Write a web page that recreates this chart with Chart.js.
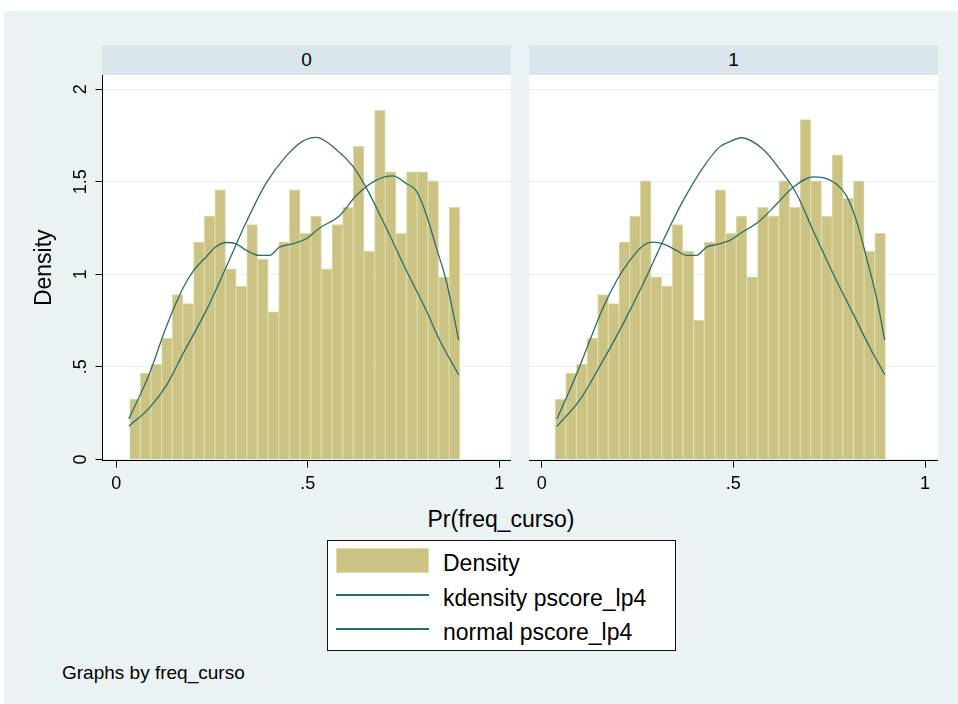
<!DOCTYPE html>
<html>
<head>
<meta charset="utf-8">
<script src="https://cdn.jsdelivr.net/npm/chart.js@4.4.0/dist/chart.umd.min.js"></script>
<style>
  body { margin: 0; width: 958px; height: 704px; background: #fff; position: relative; overflow: hidden;
         font-family: 'Liberation Sans', Arial, sans-serif; color: #000; }
  .abs { position: absolute; }
  #bg { left: 4px; top: 11px; width: 954px; height: 693px; background: #eaf2f3; }
  .strip { top: 45px; height: 30px; background: #d9e6ec; text-align: center; line-height: 30px; font-size: 19px; }
  .txt { white-space: nowrap; }
  .leg { left: 443px; font-size: 23px; line-height: 26px; }
  .legline { left: 336px; width: 93px; height: 2px; background: #2b6e69; }
</style>
</head>
<body>
<div id="bg" class="abs"></div>
<div class="abs strip" style="left:102px; width:409px;">0</div>
<div class="abs strip" style="left:529px; width:409px;">1</div>

<canvas id="c0" class="abs" width="507" height="431" style="left:4px; top:70px;"></canvas>
<canvas id="c1" class="abs" width="409" height="431" style="left:529px; top:70px;"></canvas>

<div class="abs txt" style="left:401px; width:200px; top:506px; text-align:center; font-size:23px; line-height:26px;">Pr(freq_curso)</div>

<div class="abs" style="left:327px; top:540px; width:349px; height:111px; box-sizing:border-box; border:1px solid #111; background:#fff;"></div>
<div class="abs" style="left:336px; top:548px; width:93px; height:25px; box-sizing:border-box; background:#cbc383; border:1px solid #e0daa6;"></div>
<div class="abs legline" style="top:594px;"></div>
<div class="abs legline" style="top:628px;"></div>
<div class="abs txt leg" style="top:550px;">Density</div>
<div class="abs txt leg" style="top:585px;">kdensity pscore_lp4</div>
<div class="abs txt leg" style="top:619px;">normal pscore_lp4</div>

<div class="abs txt" style="left:62px; top:662px; font-size:19px; line-height:22px;">Graphs by freq_curso</div>

<script>
// histogram bins (centres), same for both panels
const binCenters = [0.0489, 0.0767, 0.1045, 0.1323, 0.1601, 0.1879, 0.2157, 0.2435, 0.2713, 0.2991,
  0.3269, 0.3547, 0.3825, 0.4103, 0.4381, 0.4659, 0.4937, 0.5215, 0.5493, 0.5771,
  0.6049, 0.6327, 0.6605, 0.6883, 0.7161, 0.7439, 0.7717, 0.7995, 0.8273, 0.8551, 0.8829];

const density0 = [0.326, 0.466, 0.514, 0.656, 0.891, 0.842, 1.174, 1.315, 1.457, 1.030,
  0.937, 1.269, 1.081, 0.797, 1.174, 1.457, 1.222, 1.315, 1.030, 1.269,
  1.362, 1.692, 1.125, 1.886, 1.554, 1.222, 1.554, 1.554, 1.505, 0.986, 1.362];
const density1 = [0.326, 0.466, 0.514, 0.656, 0.891, 0.842, 1.174, 1.315, 1.505, 0.986,
  0.937, 1.269, 1.125, 0.753, 1.174, 1.457, 1.222, 1.315, 0.986, 1.362,
  1.315, 1.505, 1.362, 1.836, 1.505, 1.315, 1.645, 1.410, 1.505, 1.125, 1.222];

// kdensity curves
const kdX0 = [0.033, 0.087, 0.131, 0.174, 0.200, 0.235, 0.261, 0.287, 0.313, 0.340, 0.374, 0.400, 0.426,
  0.461, 0.496, 0.531, 0.583, 0.626, 0.679, 0.722, 0.757, 0.783, 0.809, 0.835, 0.861, 0.894];
const kdY0 = [0.219, 0.466, 0.720, 0.925, 1.015, 1.095, 1.150, 1.172, 1.165, 1.129, 1.102, 1.102, 1.147,
  1.165, 1.192, 1.250, 1.317, 1.425, 1.509, 1.532, 1.491, 1.452, 1.326, 1.147, 0.968, 0.645];
const kdX1 = [0.040, 0.092, 0.126, 0.161, 0.196, 0.230, 0.265, 0.291, 0.317, 0.352, 0.378, 0.404, 0.430,
  0.456, 0.491, 0.517, 0.569, 0.613, 0.656, 0.708, 0.734, 0.769, 0.795, 0.821, 0.847, 0.873, 0.895];
const kdY1 = [0.219, 0.466, 0.645, 0.824, 0.968, 1.075, 1.156, 1.174, 1.165, 1.129, 1.102, 1.102, 1.147,
  1.161, 1.183, 1.219, 1.290, 1.380, 1.470, 1.527, 1.523, 1.487, 1.425, 1.290, 1.093, 0.878, 0.645];

// normal curves
const nmX0 = [0.033, 0.087, 0.131, 0.174, 0.235, 0.287, 0.340, 0.392, 0.444, 0.487, 0.522, 0.574, 0.617,
  0.652, 0.705, 0.757, 0.809, 0.844, 0.894];
const nmY0 = [0.179, 0.280, 0.400, 0.570, 0.805, 1.039, 1.285, 1.495, 1.640, 1.720, 1.740, 1.675, 1.586,
  1.470, 1.250, 1.022, 0.806, 0.645, 0.457];
const nmX1 = [0.040, 0.100, 0.161, 0.213, 0.265, 0.317, 0.369, 0.421, 0.465, 0.491, 0.521, 0.578, 0.621,
  0.665, 0.708, 0.760, 0.812, 0.855, 0.895];
const nmY1 = [0.179, 0.323, 0.538, 0.735, 0.950, 1.183, 1.398, 1.577, 1.690, 1.717, 1.738, 1.675, 1.568,
  1.434, 1.237, 1.004, 0.789, 0.609, 0.457];

const xTicks = [0, 0.5, 1];
const xTickLabels = ['0', '.5', '1'];
const yTicks = [0, 0.5, 1, 1.5, 2];
const yTickLabels = ['0', '.5', '1', '1.5', '2'];

const FONT = "'Liberation Sans', Arial, sans-serif";
const barFill = '#cbc383';
const barEdge = '#e0daa6';
const lineCol = '#2b6e69';

const whitePlot = {
  id: 'whitePlot',
  beforeDraw(chart) {
    const a = chart.chartArea, ctx = chart.ctx;
    ctx.save();
    ctx.fillStyle = '#fff';
    ctx.fillRect(a.left, a.top, a.right - a.left, a.bottom - a.top);
    ctx.restore();
  }
};

function pts(xs, ys) {
  return xs.map((x, i) => ({ x: x, y: ys[i] }));
}

function noPad(s) {
  s.paddingTop = 0; s.paddingBottom = 0; s.paddingLeft = 0; s.paddingRight = 0;
}

function makePanel(id, dens, kdX, kdY, nmX, nmY, xmin, xmax, showY, canvasH) {
  const plotH = 385.5;
  new Chart(document.getElementById(id), {
    type: 'bar',
    data: {
      datasets: [
        { type: 'line', data: pts(kdX, kdY), borderColor: lineCol, borderWidth: 1.3, pointRadius: 0,
          cubicInterpolationMode: 'monotone', order: 0 },
        { type: 'line', data: pts(nmX, nmY), borderColor: lineCol, borderWidth: 1.3, pointRadius: 0,
          cubicInterpolationMode: 'monotone', order: 0 },
        { data: pts(binCenters, dens), backgroundColor: barFill, borderColor: barEdge, borderWidth: 1,
          barPercentage: 1, categoryPercentage: 1, order: 2 }
      ]
    },
    options: {
      responsive: false,
      animation: false,
      events: [],
      layout: { padding: { top: 5, left: 0, right: 0, bottom: 0 } },
      plugins: { legend: { display: false }, tooltip: { enabled: false } },
      scales: {
        x: {
          type: 'linear', min: xmin, max: xmax, offset: false,
          afterBuildTicks: s => { s.ticks = xTicks.map(v => ({ value: v })); },
          afterFit: s => { s.height = canvasH - 5 - plotH; noPad(s); },
          border: { display: true, color: '#000', width: 1 },
          grid: { display: true, drawOnChartArea: false, drawTicks: true, tickLength: 7, tickColor: '#000', offset: false },
          ticks: { color: '#000', padding: 6, font: { family: FONT, size: 18 },
                   maxRotation: 0, callback: (v, i) => xTickLabels[i] }
        },
        y: {
          min: -0.006, max: 2.077,
          afterBuildTicks: s => { s.ticks = yTicks.map(v => ({ value: v })); },
          afterFit: s => { s.width = showY ? 98.5 : 0; noPad(s); },
          border: { display: showY, color: '#000', width: 1 },
          grid: { color: '#e8f0f2', lineWidth: 1, drawTicks: showY, tickLength: 7, tickColor: '#000' },
          ticks: { display: showY, color: '#000', padding: 2, crossAlign: 'center',
                   minRotation: 90, maxRotation: 90, font: { family: FONT, size: 18 },
                   callback: (v, i) => yTickLabels[i] },
          title: { display: showY, text: 'Density', color: '#000', font: { family: FONT, size: 23 },
                   padding: { top: 27, bottom: 0 } }
        }
      }
    },
    plugins: [whitePlot]
  });
}

makePanel('c0', density0, kdX0, kdY0, nmX0, nmY0, -0.036, 1.0305, true, 431);
makePanel('c1', density1, kdX1, kdY1, nmX1, nmY1, -0.0331, 1.0339, false, 431);
</script>
</body>
</html>
